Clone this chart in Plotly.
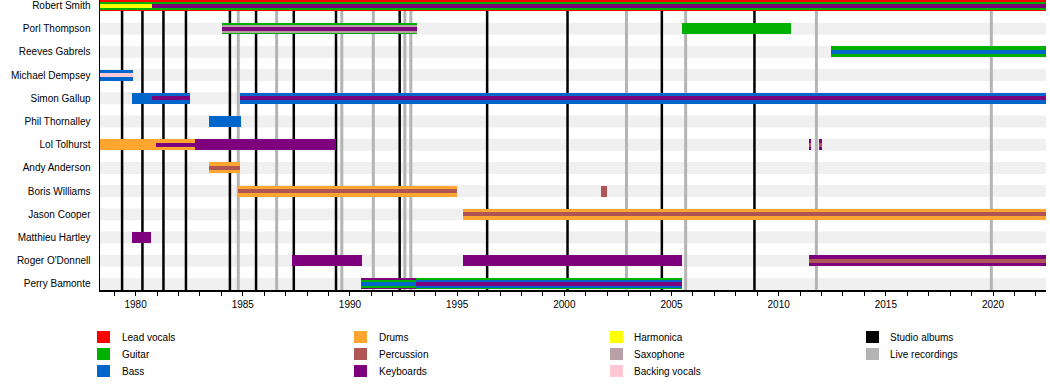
import plotly.graph_objects as go

# ---------------- data ----------------
members = ["Robert Smith", "Porl Thompson", "Reeves Gabrels", "Michael Dempsey",
           "Simon Gallup", "Phil Thornalley", "Lol Tolhurst", "Andy Anderson",
           "Boris Williams", "Jason Cooper", "Matthieu Hartley", "Roger O'Donnell",
           "Perry Bamonte"]

START = 1978.34
END = 2022.47

roles = ["Lead vocals", "Guitar", "Bass", "Drums", "Percussion", "Keyboards",
         "Harmonica", "Saxophone", "Backing vocals"]
role_colors = ["#ff0000", "#00b000", "#0066cc", "#ffa530", "#b05555", "#7d007d",
               "#ffff00", "#b7a0a6", "#ffc8d2"]

# stints: (member, start, end, role)  -- outer (main) layer
main_stints = [
    ("Robert Smith", START, END, "Lead vocals"),
    ("Porl Thompson", 1984.03, 1993.15, "Guitar"),
    ("Porl Thompson", 2005.51, 2010.59, "Guitar"),
    ("Reeves Gabrels", 2012.42, END, "Guitar"),
    ("Michael Dempsey", START, 1979.87, "Bass"),
    ("Simon Gallup", 1979.84, 1982.54, "Bass"),
    ("Simon Gallup", 1984.87, END, "Bass"),
    ("Phil Thornalley", 1983.43, 1984.9, "Bass"),
    ("Lol Tolhurst", START, 1982.77, "Drums"),
    ("Lol Tolhurst", 1982.77, 1989.35, "Keyboards"),
    ("Lol Tolhurst", 2011.42, 2011.52, "Keyboards"),
    ("Lol Tolhurst", 2011.90, 2012.02, "Keyboards"),
    ("Andy Anderson", 1983.43, 1984.87, "Drums"),
    ("Boris Williams", 1984.8, 1994.98, "Drums"),
    ("Boris Williams", 2001.72, 2002.0, "Percussion"),
    ("Jason Cooper", 1995.28, END, "Drums"),
    ("Matthieu Hartley", 1979.84, 1980.7, "Keyboards"),
    ("Roger O'Donnell", 1987.3, 1990.55, "Keyboards"),
    ("Roger O'Donnell", 1995.28, 2005.5, "Keyboards"),
    ("Roger O'Donnell", 2011.4, END, "Keyboards"),
    ("Perry Bamonte", 1990.5, 1993.1, "Keyboards"),
    ("Perry Bamonte", 1993.1, 2005.5, "Guitar"),
]
# middle layer
middle_stints = [
    ("Robert Smith", START, END, "Guitar"),
    ("Porl Thompson", 1984.03, 1993.15, "Saxophone"),
    ("Perry Bamonte", 1990.5, 1993.1, "Guitar"),
    ("Perry Bamonte", 1993.1, 2005.5, "Bass"),
]
# inner layer
inner_stints = [
    ("Robert Smith", START, 1980.77, "Harmonica"),
    ("Robert Smith", 1980.77, END, "Keyboards"),
    ("Porl Thompson", 1984.03, 1993.15, "Keyboards"),
    ("Reeves Gabrels", 2012.42, END, "Bass"),
    ("Michael Dempsey", START, 1979.87, "Backing vocals"),
    ("Simon Gallup", 1980.77, 1982.54, "Keyboards"),
    ("Simon Gallup", 1984.87, END, "Keyboards"),
    ("Lol Tolhurst", 1980.96, 1982.77, "Keyboards"),
    ("Lol Tolhurst", 2011.42, 2011.52, "Percussion"),
    ("Lol Tolhurst", 2011.90, 2012.02, "Percussion"),
    ("Andy Anderson", 1983.43, 1984.87, "Percussion"),
    ("Boris Williams", 1984.8, 1994.98, "Percussion"),
    ("Jason Cooper", 1995.28, END, "Percussion"),
    ("Roger O'Donnell", 2011.4, END, "Percussion"),
    ("Perry Bamonte", 1990.5, 1993.1, "Bass"),
    ("Perry Bamonte", 1993.1, 2005.5, "Keyboards"),
]

studio_albums = [1979.37, 1980.32, 1981.30, 1982.35, 1984.40, 1985.62, 1987.38,
                 1989.35, 1992.32, 1996.40, 2000.15, 2004.55, 2008.87]
live_recordings = [1984.79, 1986.58, 1989.62, 1991.09, 1992.56, 1992.84,
                   2002.90, 2005.66, 2011.76, 2019.92]

year_ticks = [1980, 1985, 1990, 1995, 2000, 2005, 2010, 2015, 2020]

# ---------------- styling ----------------
ROW_PX = 23.2
layer_px = [11, 8, 4]
FONT = "Liberation Sans, Arial, sans-serif"
color_of = dict(zip(roles, role_colors))
row_of = {m: i for i, m in enumerate(members)}

PL, PW, PT, PH = 100, 946, 0, 290
y_top = -5.5 / ROW_PX
y_bot = (PH - 5.5) / ROW_PX

fig = go.Figure()

for layer, stints in enumerate([main_stints, middle_stints, inner_stints]):
    w = layer_px[layer] / ROW_PX
    for role in roles:
        sel = [s for s in stints if s[3] == role]
        if not sel:
            continue
        fig.add_trace(go.Bar(
            orientation="h",
            y=[row_of[s[0]] for s in sel],
            base=[s[1] for s in sel],
            x=[s[2] - s[1] for s in sel],
            width=[w] * len(sel),
            marker=dict(color=color_of[role], line=dict(width=0)),
            hoverinfo="skip",
            showlegend=False,
        ))

shapes = []
stripe_h = 12 / ROW_PX / 2
for i in range(len(members)):
    shapes.append(dict(type="rect", xref="x", yref="y", x0=START, x1=END,
                       y0=i - stripe_h, y1=i + stripe_h, fillcolor="#f0f0f0",
                       line=dict(width=0), layer="below"))
for x in live_recordings:
    shapes.append(dict(type="line", xref="x", yref="y", x0=x, x1=x, y0=y_bot, y1=y_top,
                       line=dict(color="#b4b4b4", width=3), layer="below"))
for x in studio_albums:
    shapes.append(dict(type="line", xref="x", yref="y", x0=x, x1=x, y0=y_bot, y1=y_top,
                       line=dict(color="#000000", width=2.5), layer="below"))

# manual legend
def px2paper(px, py):
    return (px - PL) / PW, (PT + PH - py) / PH

legend_items = [("Lead vocals", "#ff0000"), ("Guitar", "#00b000"), ("Bass", "#0066cc"),
                ("Drums", "#ffa530"), ("Percussion", "#b05555"), ("Keyboards", "#7d007d"),
                ("Harmonica", "#ffff00"), ("Saxophone", "#b7a0a6"), ("Backing vocals", "#ffc8d2"),
                ("Studio albums", "#000000"), ("Live recordings", "#b4b4b4")]
col_sq = [97, 354, 610, 866]
col_tx = [120, 377, 632, 888]
row_y = [337, 354, 371]
annotations = []
for k, (name, col) in enumerate(legend_items):
    c, r = divmod(k, 3)
    x0, y0 = px2paper(col_sq[c], row_y[r] - 6)
    x1, y1 = px2paper(col_sq[c] + 13, row_y[r] + 6)
    shapes.append(dict(type="rect", xref="paper", yref="paper", x0=x0, x1=x1,
                       y0=y1, y1=y0, fillcolor=col, line=dict(width=0)))
    tx, ty = px2paper(col_tx[c], row_y[r])
    annotations.append(dict(xref="paper", yref="paper", x=tx, y=ty, text=name,
                            showarrow=False, xanchor="left", yanchor="middle",
                            font=dict(family=FONT, size=10, color="#000")))

fig.update_layout(
    width=1050, height=388,
    margin=dict(l=PL, r=1050 - PL - PW, t=PT, b=388 - PH - PT, autoexpand=False),
    paper_bgcolor="white", plot_bgcolor="white",
    barmode="overlay", bargap=0,
    showlegend=False,
    font=dict(family=FONT, size=10, color="#000"),
    shapes=shapes, annotations=annotations,
    xaxis=dict(range=[START, END], tickvals=year_ticks, ticks="outside", ticklen=4,
               tickcolor="#000", tickwidth=1, automargin=False,
               minor=dict(dtick=1, tick0=1980, ticks="outside", ticklen=4,
                          tickcolor="#000", showgrid=False),
               showline=True, linecolor="#000", linewidth=1.5, showgrid=False,
               zeroline=False, tickfont=dict(size=10, family=FONT)),
    yaxis=dict(range=[y_bot, y_top], tickvals=list(range(len(members))),
               ticktext=members, ticks="", showline=True, linecolor="#000",
               linewidth=1.5, showgrid=False, zeroline=False, automargin=False,
               ticklabelstandoff=6, tickfont=dict(size=10, family=FONT)),
)

fig.write_html("out.html", config={"displayModeBar": False, "staticPlot": True},
               post_script="document.body.style.margin='0';document.body.style.padding='0';")
